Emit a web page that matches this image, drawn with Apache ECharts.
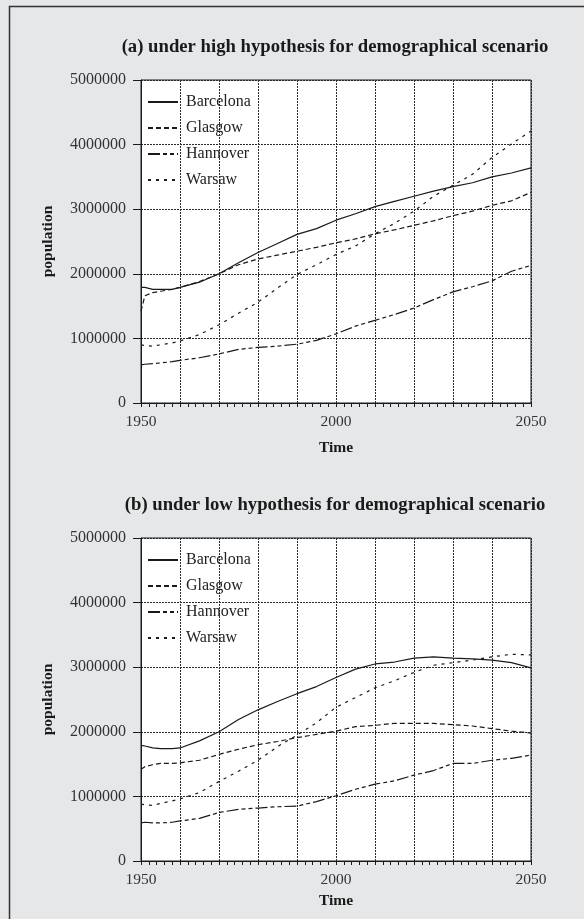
<!DOCTYPE html>
<html>
<head>
<meta charset="utf-8">
<script src="https://cdn.jsdelivr.net/npm/echarts@6/dist/echarts.min.js"></script>
<style>
  html, body { margin: 0; padding: 0; background: #e6e7e8; }
  #chart { width: 584px; height: 919px; }
</style>
</head>
<body>
<div id="chart"></div>
<script>
// Years sampled for every city series
const years = [1950, 1951, 1953, 1955, 1958, 1960, 1965, 1970, 1975, 1980, 1985, 1990,
               1995, 2000, 2005, 2010, 2015, 2020, 2025, 2030, 2035, 2040, 2045, 2050];

// (a) high hypothesis
const barcelonaHigh = [1790000, 1790000, 1760000, 1760000, 1760000, 1790000, 1870000, 2000000, 2170000, 2330000, 2470000, 2610000,
                       2700000, 2830000, 2930000, 3040000, 3120000, 3200000, 3280000, 3350000, 3410000, 3500000, 3560000, 3640000];
const glasgowHigh   = [1420000, 1660000, 1710000, 1730000, 1760000, 1790000, 1880000, 2000000, 2140000, 2230000, 2290000, 2350000,
                       2410000, 2480000, 2540000, 2620000, 2680000, 2750000, 2820000, 2900000, 2970000, 3060000, 3130000, 3260000];
const hannoverHigh  = [590000, 600000, 610000, 620000, 640000, 660000, 700000, 760000, 830000, 860000, 880000, 910000,
                       970000, 1070000, 1190000, 1280000, 1370000, 1470000, 1600000, 1720000, 1800000, 1890000, 2040000, 2130000];
const warsawHigh    = [900000, 890000, 880000, 900000, 930000, 960000, 1060000, 1210000, 1390000, 1560000, 1780000, 1990000,
                       2140000, 2300000, 2430000, 2620000, 2780000, 2970000, 3200000, 3370000, 3540000, 3800000, 4010000, 4210000];

// (b) low hypothesis
const barcelonaLow = [1790000, 1780000, 1750000, 1740000, 1740000, 1750000, 1860000, 2000000, 2190000, 2340000, 2470000, 2590000,
                      2700000, 2840000, 2970000, 3050000, 3080000, 3140000, 3160000, 3140000, 3130000, 3110000, 3070000, 2990000];
const glasgowLow   = [1420000, 1460000, 1490000, 1510000, 1510000, 1520000, 1560000, 1650000, 1730000, 1800000, 1850000, 1910000,
                      1960000, 2010000, 2080000, 2100000, 2130000, 2130000, 2130000, 2110000, 2090000, 2050000, 2010000, 1980000];
const hannoverLow  = [590000, 600000, 590000, 590000, 600000, 620000, 660000, 750000, 800000, 820000, 840000, 850000,
                      920000, 1010000, 1110000, 1190000, 1240000, 1330000, 1400000, 1510000, 1510000, 1560000, 1590000, 1640000];
const warsawLow    = [880000, 870000, 860000, 890000, 930000, 960000, 1060000, 1230000, 1390000, 1560000, 1770000, 1950000,
                      2140000, 2380000, 2530000, 2680000, 2790000, 2920000, 3030000, 3070000, 3110000, 3160000, 3200000, 3190000];

const cities = ['Barcelona', 'Glasgow', 'Hannover', 'Warsaw'];
const panelTitles = ['(a) under high hypothesis for demographical scenario',
                     '(b) under low hypothesis for demographical scenario'];
const yTicks = [0, 1000000, 2000000, 3000000, 4000000, 5000000];
const xLabelYears = [1950, 2000, 2050];

const serif = 'Liberation Serif';
const ink = '#1a1a1a';
const gridInk = '#2a2a2a';
const dashStyles = {
  Barcelona: 'solid',
  Glasgow: [5, 3],
  Hannover: [12, 3, 4, 3, 4, 3],
  Warsaw: [3, 5]
};

const panels = [
  { top: 80,  timeGap: 37, series: [barcelonaHigh, glasgowHigh, hannoverHigh, warsawHigh] },
  { top: 538, timeGap: 32, series: [barcelonaLow, glasgowLow, hannoverLow, warsawLow] }
];

const pair = vals => years.map((y, i) => [y, vals[i]]);

const grids = [], xAxes = [], yAxes = [], series = [], titles = [], legends = [];
panels.forEach((p, gi) => {
  grids.push({ left: 141, top: p.top, width: 390, height: 323, show: true,
               backgroundColor: '#ffffff', borderColor: ink, borderWidth: 1 });
  titles.push({ text: panelTitles[gi], left: 335, top: p.top - 42, textAlign: 'center', padding: 0,
                textStyle: { fontFamily: serif, fontWeight: 'bold', fontSize: 18.7, color: ink } });
  xAxes.push({
    type: 'value', gridIndex: gi, min: 1950, max: 2050, interval: 10,
    name: 'Time', nameLocation: 'middle', nameGap: p.timeGap,
    nameTextStyle: { fontFamily: serif, fontWeight: 'bold', fontSize: 15.5, color: ink },
    axisLine: { lineStyle: { color: ink, width: 1 } },
    axisTick: { show: true, length: 4, lineStyle: { color: ink } },
    minorTick: { show: true, splitNumber: 5, length: 4, lineStyle: { color: ink } },
    axisLabel: { fontFamily: serif, fontSize: 15.5, color: '#333', margin: 11,
                 formatter: v => (xLabelYears.indexOf(v) >= 0 ? String(v) : '') },
    splitLine: { show: true, lineStyle: { color: gridInk, type: [2, 1], width: 1 } }
  });
  yAxes.push({
    type: 'value', gridIndex: gi, min: yTicks[0], max: yTicks[yTicks.length - 1], interval: 1000000,
    name: 'population', nameLocation: 'middle', nameGap: 85,
    nameTextStyle: { fontFamily: serif, fontWeight: 'bold', fontSize: 15.5, color: ink },
    axisLine: { show: true, lineStyle: { color: ink, width: 1 } },
    axisTick: { show: true, length: 8, lineStyle: { color: ink } },
    axisLabel: { fontFamily: serif, fontSize: 16, color: '#333', margin: 15,
                 formatter: v => String(v) },
    splitLine: { show: true, lineStyle: { color: gridInk, type: [2, 1], width: 1 } }
  });
  legends.push({
    orient: 'vertical', left: 147, top: p.top + 14, padding: 0, itemGap: 10,
    itemWidth: 30, itemHeight: 14, data: cities,
    itemStyle: { opacity: 0 },
    textStyle: { fontFamily: serif, fontSize: 16, color: '#222', padding: [0, 0, 0, 3] }
  });
  cities.forEach((c, si) => {
    series.push({
      name: c, type: 'line', xAxisIndex: gi, yAxisIndex: gi, data: pair(p.series[si]),
      showSymbol: false, symbol: 'none', smooth: false, silent: true,
      itemStyle: { color: ink },
      lineStyle: { color: ink, width: 1.2, type: dashStyles[c] }
    });
  });
});

const chart = echarts.init(document.getElementById('chart'), null, { renderer: 'canvas' });
chart.setOption({
  backgroundColor: '#e6e7e8',
  animation: false,
  title: titles,
  legend: legends,
  grid: grids,
  xAxis: xAxes,
  yAxis: yAxes,
  series: series,
  graphic: [{
    type: 'rect', left: 7, top: 4, silent: true,
    shape: { x: 0, y: 0, width: 620, height: 960 },
    style: { fill: 'none', stroke: '#333', lineWidth: 1.5 }
  }]
});
</script>
</body>
</html>
